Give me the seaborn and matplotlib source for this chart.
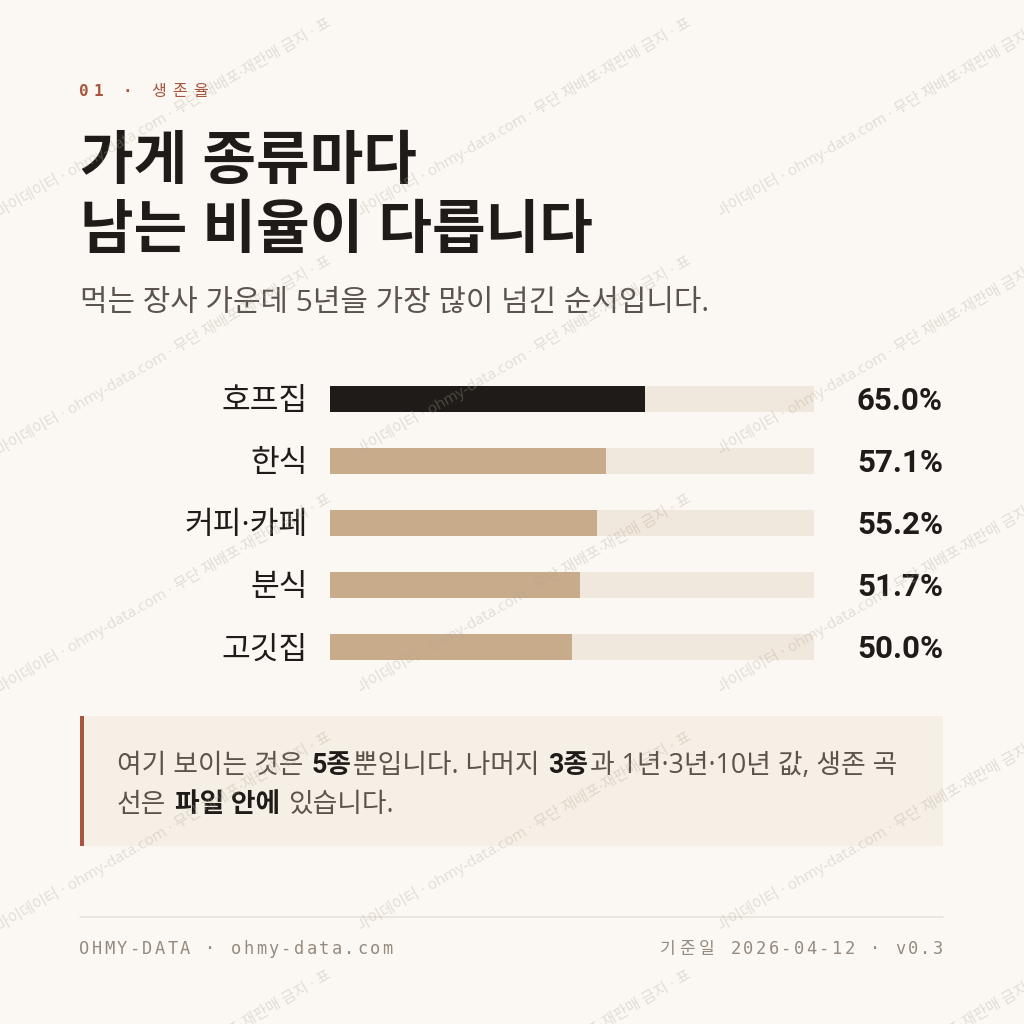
import matplotlib
matplotlib.use("Agg")
import matplotlib.pyplot as plt
import matplotlib.transforms as mtransforms
from matplotlib.patches import Rectangle
from matplotlib.lines import Line2D
import pandas as pd
import seaborn as sns

# Data
categories = ["호프집", "한식", "커피·카페", "분식", "고깃집"]
survival_5y = [65.0, 57.1, 55.2, 51.7, 50.0]
highlight = "호프집"

eyebrow = "01 · 생존율"
title_lines = ["가게 종류마다", "남는 비율이 다릅니다"]
subtitle = "먹는 장사 가운데 5년을 가장 많이 넘긴 순서입니다."
note_lines = [
    [("여기 보이는 것은 ", False), ("5종", True), ("뿐입니다. 나머지 ", False),
     ("3종", True), ("과 1년·3년·10년 값, 생존 곡", False)],
    [("선은 ", False), ("파일 안에", True), (" 있습니다.", False)],
]
footer_left = "OHMY-DATA · ohmy-data.com"
footer_right = "기준일 2026-04-12 · v0.3"
watermark = "마이데이터 · ohmy-data.com · 무단 재배포·재판매 금지 · 표"

# Colours
BG = "#fbf8f3"
INK = "#1f1b18"
MUTED = "#5b534c"
RUST = "#a9543c"
TAN = "#c8ab8a"
TRACK = "#f0e8dc"
NOTE_BG = "#f5efe6"
FOOT = "#958a7f"

W = H = 1024
PT = 72 / 100  # px -> pt at dpi 100

sns.set_theme(style="white")
plt.rcParams["font.family"] = ["Open Sans", "Noto Sans CJK KR", "DejaVu Sans"]
MONO = ["DejaVu Sans Mono", "Noto Sans CJK KR"]
BOLD = ["Roboto", "Noto Sans CJK KR", "DejaVu Sans"]

fig = plt.figure(figsize=(W / 100, H / 100), dpi=100, facecolor=BG)
renderer = fig.canvas.get_renderer()


def fpos(x, y):
    return x / W, 1 - y / H


def is_wide(ch):
    return ord(ch) >= 0x1100


def tracked(x, y, text, size_px, tracking, color, bold_ascii=False, align="left"):
    # monospace text with letter spacing, drawn char by char
    steps = [(size_px if is_wide(c) else 0.602 * size_px) + tracking for c in text]
    total = sum(steps) - tracking
    if align == "right":
        x = x - total
    for c, step in zip(text, steps):
        if c != " ":
            weight = "bold" if (bold_ascii and not is_wide(c)) else "normal"
            fig.text(*fpos(x, y), c, family=MONO, fontsize=size_px * PT,
                     color=color, fontweight=weight, va="baseline", ha="left")
        x += step


def text_width(s, size, weight):
    t = fig.text(0, 0, s, fontsize=size, fontweight=weight)
    w = t.get_window_extent(renderer).width
    t.remove()
    return w


def runs(x, y, parts, size):
    space = text_width("a a", size, "normal") - text_width("aa", size, "normal")
    for s, bold in parts:
        lead = len(s) - len(s.lstrip(" "))
        trail = len(s) - len(s.rstrip(" "))
        x += lead * space
        core = s.strip(" ")
        if bold:
            t = fig.text(*fpos(x, y), core, fontsize=size, fontweight="bold", family=BOLD,
                         color=INK, va="baseline", ha="left", zorder=3)
        else:
            t = fig.text(*fpos(x, y), core, fontsize=size, color=MUTED,
                         va="baseline", ha="left", zorder=3)
        x += t.get_window_extent(renderer).width + 1.5
        x += trail * space


# Header
tracked(79, 96, eyebrow, 16, 4.8, RUST, bold_ascii=True)
fig.text(*fpos(80, 179), title_lines[0], fontsize=42, fontweight="bold", color=INK, va="baseline")
fig.text(*fpos(80, 248), title_lines[1], fontsize=42, fontweight="bold", color=INK, va="baseline")
fig.text(*fpos(80, 311), subtitle, fontsize=21.5, color=MUTED, va="baseline")

# Bars
df = pd.DataFrame({"category": categories, "rate": survival_5y,
                   "track": [100.0] * len(categories)})
bar_colors = {c: (INK if c == highlight else TAN) for c in categories}

ax = fig.add_axes([330 / W, 1 - 678 / H, 484 / W, 310 / H])
ax.patch.set_alpha(0)
sns.barplot(data=df, x="track", y="category", orient="h", color=TRACK,
            width=0.42, linewidth=0, saturation=1, ax=ax)
sns.barplot(data=df, x="rate", y="category", hue="category", palette=bar_colors,
            orient="h", width=0.42, linewidth=0, saturation=1, dodge=False,
            legend=False, ax=ax)
ax.set_xlim(0, 100)
ax.set_ylim(len(categories) - 0.5, -0.5)
ax.set(xlabel="", ylabel="")
ax.set_xticks([])
sns.despine(ax=ax, left=True, bottom=True)
ax.tick_params(axis="y", length=0, pad=22 * PT, labelsize=22.5, labelcolor=INK)

trans = mtransforms.blended_transform_factory(ax.transAxes, ax.transData)
for i, v in enumerate(survival_5y):
    ax.text((943 - 330) / 484, i + 11 / 62, f"{v:.1f}%", transform=trans, family=BOLD,
            ha="right", va="baseline", fontsize=22.5, fontweight="bold", color=INK)

# Note box
fig.patches.append(Rectangle(fpos(80, 846), 863 / W, 130 / H, transform=fig.transFigure,
                             facecolor=NOTE_BG, edgecolor="none", zorder=1))
fig.patches.append(Rectangle(fpos(80, 846), 4 / W, 130 / H, transform=fig.transFigure,
                             facecolor=RUST, edgecolor="none", zorder=2))
runs(117, 773, note_lines[0], 19.3)
runs(117, 812, note_lines[1], 19.3)

# Footer
fig.lines.append(Line2D([80 / W, 943 / W], [1 - 917 / H] * 2, transform=fig.transFigure,
                        color="#e9e2d8", linewidth=1.2))
tracked(79, 954, footer_left, 17, 2.4, FOOT)
tracked(943, 954, footer_right, 17, 2.4, FOOT, align="right")

# Watermark tiles
for y0 in [-20 + 238 * k for k in range(6)]:
    for x0 in [0, 360, 720]:
        t = fig.text(*fpos(x0, y0), watermark, fontsize=11, color="#b0a696", alpha=0.33,
                     rotation=30, rotation_mode="anchor", ha="left", va="baseline", zorder=10)
        t.set_clip_box(mtransforms.Bbox.from_extents(x0, H - (y0 + 6), x0 + 360, H - (y0 - 232)))
        t.set_clip_on(True)

fig.savefig("out.png", dpi=100, facecolor=BG)
